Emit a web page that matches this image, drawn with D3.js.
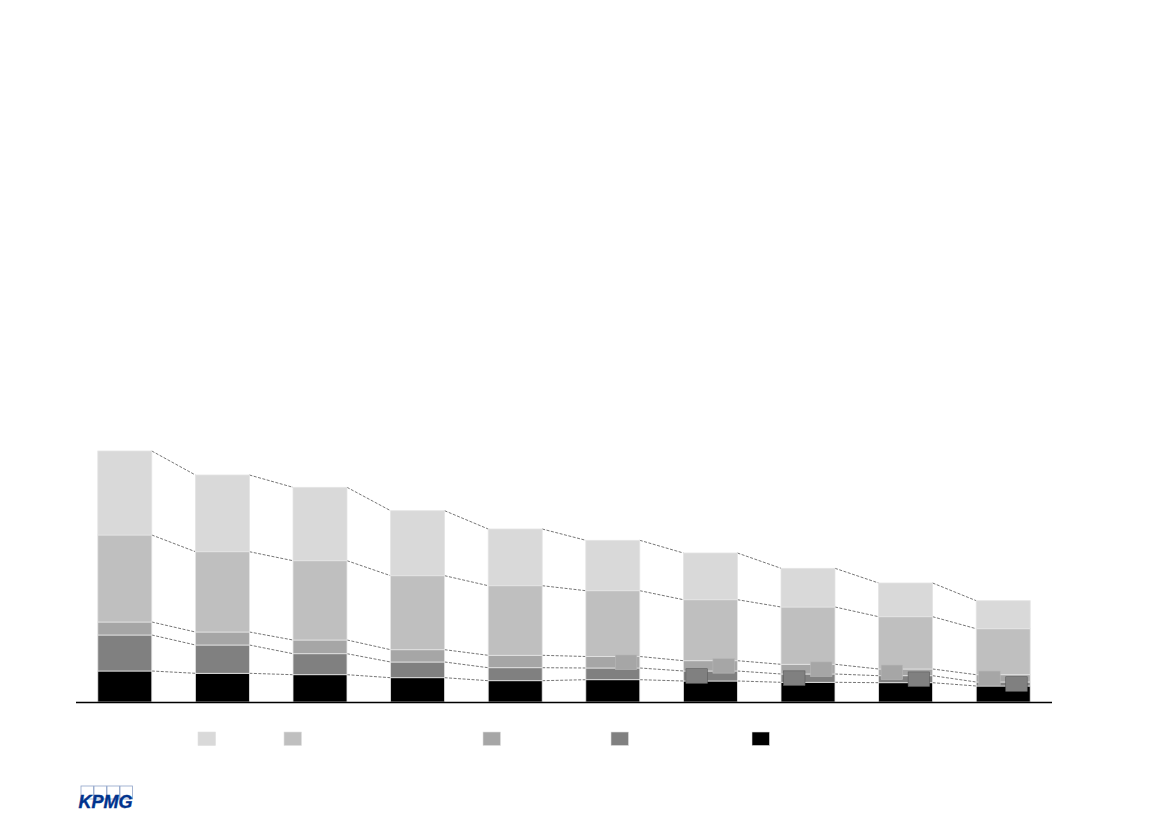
<!DOCTYPE html>
<html>
<head>
<meta charset="utf-8">
<script src="https://cdn.jsdelivr.net/npm/d3@7"></script>
<style>
  html, body { margin: 0; padding: 0; background: #fff; }
  svg { display: block; }
</style>
</head>
<body>
<div id="container"></div>
<script>
// categories (no labels shown on the chart)
const categories = ["1", "2", "3", "4", "5", "6", "7", "8", "9", "10"];

// series, bottom to top
const seriesKeys = ["s1", "s2", "s3", "s4", "s5"];
const seriesColors = ["#000000", "#808080", "#a6a6a6", "#bfbfbf", "#d9d9d9"];

const s1 = [31, 28.7, 27.3, 24.3, 21.3, 22.3, 21, 19.7, 19.3, 16];
const s2 = [36, 28.3, 21, 15.7, 13, 11.7, 10, 8.3, 7, 4];
const s3 = [13, 13, 13.7, 12.3, 12.4, 11.5, 10.3, 9.7, 6.7, 7.3];
const s4 = [87, 80.3, 79.3, 74, 69.6, 65.8, 61, 57.3, 52.3, 46];
const s5 = [84, 76.7, 73.4, 65, 56.7, 50.4, 46.7, 38.7, 33.7, 28];

// label boxes that sit over the small segments (bar index, series, side)
const labelBoxes = [
  { bar: 5, key: "s3", side: "R" },
  { bar: 6, key: "s2", side: "L" }, { bar: 6, key: "s3", side: "R" },
  { bar: 7, key: "s2", side: "L" }, { bar: 7, key: "s3", side: "R" },
  { bar: 8, key: "s3", side: "L" }, { bar: 8, key: "s2", side: "R" },
  { bar: 9, key: "s3", side: "L" }, { bar: 9, key: "s2", side: "R" }
];

const table = categories.map((c, i) => ({
  cat: c, s1: s1[i], s2: s2[i], s3: s3[i], s4: s4[i], s5: s5[i]
}));

const W = 1169, H = 827;
const svg = d3.select("#container").append("svg")
  .attr("width", W).attr("height", H);

const x = d3.scaleBand().domain(categories)
  .range([76, 1052]).paddingInner(0.447).paddingOuter(0.2235);
const y = d3.scaleLinear().domain([0, 300]).range([702, 402]);
const color = d3.scaleOrdinal().domain(seriesKeys).range(seriesColors);

const stacked = d3.stack().keys(seriesKeys)(table);
const bw = x.bandwidth();

// connector lines between neighbouring bars
const connectors = svg.append("g");
stacked.forEach(layer => {
  for (let i = 0; i < layer.length - 1; i++) {
    connectors.append("line")
      .attr("x1", x(categories[i]) + bw)
      .attr("y1", y(layer[i][1]))
      .attr("x2", x(categories[i + 1]))
      .attr("y2", y(layer[i + 1][1]))
      .attr("stroke", "#666")
      .attr("stroke-width", 0.9)
      .attr("stroke-dasharray", "3,1.5");
  }
});

// bars
svg.append("g").selectAll("g")
  .data(stacked)
  .join("g")
  .attr("fill", d => color(d.key))
  .selectAll("rect")
  .data(d => d)
  .join("rect")
  .attr("x", d => x(d.data.cat))
  .attr("y", d => y(d[1]))
  .attr("width", bw)
  .attr("height", d => y(d[0]) - y(d[1]))
  .attr("stroke", "#e4e4e4")
  .attr("stroke-width", 0.8);

// label boxes over the thin segments
const byKey = {};
stacked.forEach(l => { byKey[l.key] = l; });
svg.append("g").selectAll("rect")
  .data(labelBoxes)
  .join("rect")
  .attr("x", d => x(categories[d.bar]) + (d.side === "L" ? 2.5 : 29.5))
  .attr("y", d => {
    const seg = byKey[d.key][d.bar];
    return (y(seg[0]) + y(seg[1])) / 2 - 7.3;
  })
  .attr("width", 21.5)
  .attr("height", 14.6)
  .attr("fill", d => color(d.key))
  .attr("stroke", d => d.key === "s2" ? "#5a5a5a" : "#b8b8b8")
  .attr("stroke-width", 0.6);

// baseline
svg.append("line")
  .attr("x1", 76).attr("x2", 1052)
  .attr("y1", y(0) + 0.5).attr("y2", y(0) + 0.5)
  .attr("stroke", "#000").attr("stroke-width", 1.5);

// legend (swatches only, lightest first)
const legendX = [198, 284, 483, 611, 752];
const legendKeys = seriesKeys.slice().reverse();
svg.append("g").selectAll("rect")
  .data(legendKeys)
  .join("rect")
  .attr("x", (d, i) => legendX[i])
  .attr("y", 732)
  .attr("width", 17.5)
  .attr("height", 13.5)
  .attr("fill", d => color(d))
  .attr("stroke", "#e0e0e0")
  .attr("stroke-width", 0.6);

// KPMG logo
const logo = svg.append("g").attr("transform", "translate(81,786)");
d3.range(4).forEach(i => {
  logo.append("rect")
    .attr("x", i * 13).attr("y", 0)
    .attr("width", 12.5).attr("height", 13)
    .attr("fill", "none")
    .attr("stroke", "#8fa3c9")
    .attr("stroke-width", 0.8);
});
svg.append("text")
  .attr("x", 78.5).attr("y", 808)
  .attr("font-family", "Liberation Sans, Arial, sans-serif")
  .attr("font-weight", "bold")
  .attr("font-style", "italic")
  .attr("font-size", 18)
  .attr("textLength", 54)
  .attr("lengthAdjust", "spacingAndGlyphs")
  .attr("fill", "#00338d")
  .attr("stroke", "#00338d")
  .attr("stroke-width", 0.4)
  .text("KPMG");
</script>
</body>
</html>
